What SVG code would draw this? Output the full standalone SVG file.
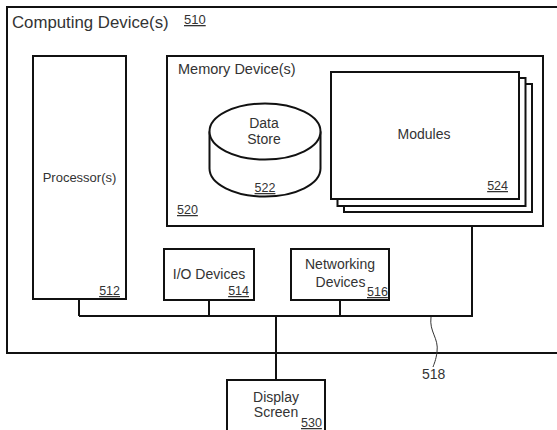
<svg xmlns="http://www.w3.org/2000/svg" width="557" height="430" viewBox="0 0 557 430">
<style>
.box{fill:#fff;stroke:#111;stroke-width:2}
.ln{fill:none;stroke:#111;stroke-width:2}
.t{font-family:"Liberation Sans",Arial,sans-serif;font-size:14px;fill:#333}
.c{text-anchor:middle}
.r{text-anchor:end}
.n{font-family:"Liberation Sans",Arial,sans-serif;font-size:12.5px;fill:#333;text-decoration:underline}
</style>
<rect width="557" height="430" fill="#fff"/>
<g id="computing-device">
<rect class="box" x="7" y="7" width="560" height="346"/>
<text class="t" x="12" y="28" style="font-size:16.8px">Computing Device(s)</text>
<text class="n" x="184" y="24" style="font-size:13px">510</text>
</g>
<g id="connectors">
<path class="ln" d="M79,299V316M209,300V316M340,300V316M79,316H472V226M276,316V380"/>
<path fill="none" stroke="#333" stroke-width="1" d="M431,317C429,332 439,338 437,352C436,360 434,364 433,367"/>
<text class="t" x="422" y="379">518</text>
</g>
<g id="processor">
<rect class="box" x="33" y="56" width="93" height="243"/>
<text class="t c" x="79.5" y="182" style="font-size:13px">Processor(s)</text>
<text class="n r" x="120" y="295">512</text>
</g>
<g id="memory">
<rect class="box" x="167" y="56" width="376" height="170"/>
<text class="t" x="178" y="74" style="font-size:14.5px">Memory Device(s)</text>
<text class="n" x="177" y="214">520</text>
</g>
<g id="data-store">
<path class="box" d="M209.5,131.5V168.5A55.5,28 0 0 0 320.5,168.5V131.5"/>
<ellipse class="box" cx="265" cy="131.5" rx="55.5" ry="28"/>
<text class="t c" x="264" y="128">Data</text>
<text class="t c" x="264" y="144">Store</text>
<text class="n c" x="265" y="192">522</text>
</g>
<g id="modules">
<rect class="box" x="344" y="84" width="188" height="128"/>
<rect class="box" x="337.5" y="78" width="188" height="128"/>
<rect class="box" x="331" y="72" width="188" height="127"/>
<text class="t c" x="424" y="139">Modules</text>
<text class="n r" x="508" y="190">524</text>
</g>
<g id="io-devices">
<rect class="box" x="164" y="249" width="90" height="51"/>
<text class="t c" x="209" y="279">I/O Devices</text>
<text class="n r" x="249" y="295">514</text>
</g>
<g id="networking-devices">
<rect class="box" x="291" y="249" width="98" height="51"/>
<text class="t c" x="340" y="269">Networking</text>
<text class="t c" x="340.5" y="287">Devices</text>
<text class="n" x="367" y="296">516</text>
</g>
<g id="display-screen">
<rect class="box" x="227" y="380" width="98" height="55"/>
<text class="t c" x="276" y="402">Display</text>
<text class="t c" x="276" y="417">Screen</text>
<text class="n" x="301" y="427">530</text>
</g>
</svg>
